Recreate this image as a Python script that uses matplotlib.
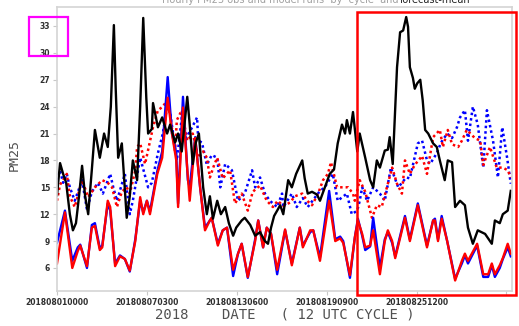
import matplotlib.pyplot as plt
import matplotlib.patches as mpatches

# hours since 2018-08-01 00 UTC, PM25 values
black_obs = [(0, 14.1), (5, 17.7), (10, 16.5), (15, 15.5), (21, 12), (26, 10.2), (31, 11), (36, 14), (41, 17.4),
             (46, 14), (51, 12), (57, 17), (62, 21.4), (70, 18.3), (77, 21), (83, 19.5), (88, 24), (93, 33.1),
             (96, 26), (100, 18.3), (106, 19.9), (114, 11.6), (119, 14), (124, 18), (131, 15.8), (136, 24),
             (141, 33.9), (146, 25), (149, 21), (155, 21.5), (157, 24.4), (165, 21.7), (172, 22.8), (180, 21),
             (185, 22), (193, 20), (198, 21), (204, 19), (213, 25.1), (217, 22), (222, 17.6), (227, 20), (232, 21),
             (239, 15), (245, 12), (250, 14), (255, 11.5), (262, 13.5), (268, 12), (275, 12.8), (281, 11),
             (288, 9.6), (293, 10.5), (302, 11.3), (307, 11.6), (316, 10.8), (324, 9.6), (332, 10), (340, 9),
             (345, 8.7), (350, 10.5), (355, 11.8), (365, 13), (370, 12), (378, 15.8), (384, 15), (391, 16.5),
             (401, 18), (405, 16), (410, 14.3), (417, 14.5), (425, 14.2), (430, 13.5), (438, 15), (446, 16.5),
             (453, 17), (459, 19.9), (466, 22), (471, 21), (474, 22.5), (479, 21), (484, 23.4), (491, 19),
             (495, 21), (504, 18.3), (512, 15.8), (517, 15), (523, 18), (528, 17.2), (536, 19.1), (541, 19.2),
             (544, 20.6), (549, 17.6), (556, 28.4), (561, 32.3), (566, 32.5), (571, 34), (574, 32.9), (577, 28.4),
             (582, 27.2), (585, 26), (589, 26.6), (594, 27), (598, 24.7), (602, 21.4), (607, 21), (615, 19.9),
             (621, 19.5), (626, 18), (634, 15.8), (639, 18), (646, 17.8), (651, 12.8), (659, 13.5), (667, 13),
             (672, 10.5), (680, 8.7), (688, 10.2), (700, 9.8), (711, 8.7), (716, 11.3), (724, 11), (729, 12),
             (737, 12.4), (742, 14.6)]

blue_solid = [(0, 8.8), (13, 12.4), (25, 6.8), (34, 8.3), (38, 8.6), (49, 6.0), (57, 10.8), (62, 11), (70, 8.2),
              (74, 8.5), (83, 13.2), (87, 12.4), (95, 6.5), (103, 7.4), (111, 7), (119, 5.6), (128, 9.2),
              (136, 13.5), (141, 12.2), (147, 13.5), (152, 12.3), (164, 16.8), (172, 19), (181, 27.3), (188, 21),
              (195, 18.8), (198, 13.2), (206, 25.1), (214, 15.8), (217, 15), (226, 20.6), (234, 15), (242, 10.5),
              (250, 11.3), (253, 11.6), (263, 8.7), (271, 10.2), (278, 10.5), (288, 5.1), (296, 7.6), (302, 8.7),
              (312, 4.9), (324, 9.2), (329, 11.3), (337, 8.3), (343, 10.5), (350, 9.8), (360, 5.3), (373, 10.2),
              (384, 6.5), (397, 10.5), (402, 8.5), (414, 10), (419, 10.2), (430, 7.2), (445, 14.6), (455, 9.2),
              (463, 9.5), (468, 9), (479, 4.9), (487, 9.4), (492, 11.5), (499, 9.6), (504, 8), (512, 8.4),
              (517, 11.6), (528, 6), (536, 9.2), (541, 10), (548, 8.8), (553, 7.3), (569, 11.8), (577, 9.2),
              (590, 13.2), (605, 8.5), (615, 11.3), (618, 11.5), (623, 9.2), (629, 11.8), (638, 9), (651, 4.8),
              (662, 6.5), (667, 7.4), (672, 6.5), (687, 8.5), (697, 5), (705, 5), (711, 6.3), (716, 5), (724, 6),
              (729, 7), (737, 8.3), (742, 7.3)]

red_solid = [(0, 6.5), (13, 12.2), (25, 6), (34, 7.9), (38, 8.5), (49, 6.2), (57, 10.5), (62, 10.7), (70, 8),
             (74, 8.3), (83, 13.5), (87, 12.8), (95, 6.2), (103, 7.3), (111, 7), (119, 5.7), (128, 9), (136, 13.9),
             (141, 12), (147, 13.5), (152, 12), (164, 16.5), (172, 18.3), (181, 25), (188, 21), (195, 18),
             (198, 12.8), (206, 23.9), (213, 17), (217, 13.5), (226, 20.5), (234, 15), (242, 10.2), (250, 11.3),
             (253, 11.6), (263, 8.5), (271, 10.2), (278, 10.5), (288, 5.8), (296, 7.6), (302, 8.7), (312, 5),
             (324, 9), (329, 11.3), (337, 8.3), (343, 10.5), (350, 9.8), (360, 5.8), (373, 10.3), (384, 6.3),
             (397, 10.5), (402, 8.3), (414, 10.2), (419, 10.2), (430, 6.8), (445, 13.5), (455, 9), (463, 9.3),
             (468, 8.8), (479, 5.2), (487, 9.4), (492, 11.3), (499, 9.8), (504, 8.3), (512, 8.5), (517, 10.2),
             (528, 5.3), (536, 9), (541, 10.2), (548, 9), (553, 7.1), (569, 11.6), (577, 9), (590, 13),
             (605, 8.3), (615, 11.3), (618, 11.3), (623, 9), (629, 11.5), (638, 9), (651, 4.6), (662, 6.8),
             (667, 7.6), (672, 6.8), (687, 8.7), (697, 5.3), (705, 5.3), (711, 6.5), (716, 5.3), (724, 6.3),
             (729, 7.1), (737, 8.7), (742, 7.6)]

blue_dot = [(0, 15.8), (5, 16.9), (10, 15.5), (16, 16.5), (21, 15), (29, 13.5), (41, 15.8), (49, 12.5), (57, 14.5),
            (67, 15.5), (75, 14.3), (87, 16.5), (92, 15), (98, 13.5), (111, 16.5), (119, 12), (124, 13.5),
            (136, 18.3), (149, 15), (155, 15.5), (165, 18.8), (173, 21), (180, 24), (185, 23.3), (196, 18),
            (204, 22.8), (211, 20.5), (221, 21.7), (229, 22.8), (231, 20.2), (237, 20), (245, 17.5), (253, 18.6),
            (262, 18.3), (267, 15), (275, 17.6), (286, 16.9), (296, 13.5), (307, 14.3), (319, 16.9), (324, 15),
            (332, 16.1), (340, 14.3), (348, 13.5), (360, 12.8), (368, 14.3), (370, 12.8), (384, 14.3),
            (392, 12.8), (402, 13.8), (410, 12.8), (430, 14.6), (438, 15), (451, 16.5), (459, 13.5), (474, 14.3),
            (482, 12), (491, 12.4), (495, 13.5), (499, 15), (507, 13.5), (517, 15), (528, 14.3), (536, 13.5),
            (546, 17.2), (558, 15), (571, 16.1), (577, 16), (590, 19.9), (597, 20.2), (605, 18), (610, 17.6),
            (621, 18.8), (628, 20), (638, 21), (646, 20.5), (654, 21.7), (659, 22.8), (667, 23.6), (672, 20.2),
            (680, 24), (688, 22), (697, 17.2), (703, 23.6), (713, 20.2), (721, 16.1), (728, 21.7), (736, 18.3),
            (742, 15.4)]

red_dot = [(0, 13.5), (5, 15.3), (10, 15.8), (16, 16.5), (21, 14), (29, 12.8), (41, 15.8), (51, 13.9), (62, 15),
           (74, 15.8), (83, 15.5), (90, 15), (98, 12.8), (106, 14.5), (114, 15), (119, 14.3), (128, 16.9),
           (131, 19.5), (136, 19.9), (144, 17.6), (157, 21.7), (165, 23.6), (173, 24), (180, 24.7), (185, 23),
           (193, 19.1), (196, 22.5), (204, 23.6), (213, 20.2), (222, 21), (231, 18.3), (239, 19), (245, 18.3),
           (250, 16.1), (257, 17.5), (262, 18.3), (271, 16), (283, 16.9), (291, 13.2), (302, 14.3), (312, 12.4),
           (320, 14.5), (332, 15.2), (343, 13.5), (353, 12.8), (361, 13.5), (370, 12.9), (381, 13.3), (389, 14),
           (401, 14.3), (409, 13.5), (417, 13), (427, 14.3), (435, 15.8), (443, 16.5), (448, 17.8), (458, 15),
           (468, 15), (476, 15), (484, 14.3), (487, 13.5), (495, 15.8), (504, 14.5), (515, 11.6), (523, 13),
           (531, 12.8), (541, 15.4), (548, 17.2), (556, 15.4), (564, 14.3), (569, 18), (577, 16.5), (585, 17.5),
           (597, 18.5), (605, 16.5), (615, 20.6), (626, 21.4), (631, 19.5), (639, 21.4), (646, 19.8), (656, 19.5),
           (662, 20.2), (670, 21.4), (679, 20.8), (683, 20.5), (692, 20.2), (697, 17.5), (708, 19.5), (719, 17.2),
           (729, 17.2), (737, 16.9), (742, 16.1)]

x_ticks = [0, 147, 294, 441, 588, 735]
x_labels = ['201808010000', '201808070300', '201808130600', '201808190900', '201808251200', '']
y_ticks = [6, 9, 12, 15, 18, 21, 24, 27, 30, 33]

fig = plt.figure(figsize=(5.19, 3.26), dpi=100)
ax = fig.add_axes([57 / 519, 1 - 291 / 326, 455 / 519, 284 / 326])


def xy(pts):
    return [p[0] for p in pts], [p[1] for p in pts]


ax.plot(*xy(blue_dot), color='#0000ff', lw=1.8, ls=(0, (1, 1.2)))
ax.plot(*xy(red_dot), color='#ff0000', lw=1.8, ls=(0, (1, 1.2)))
ax.plot(*xy(blue_solid), color='#0000ff', lw=1.7)
ax.plot(*xy(red_solid), color='#ff0000', lw=1.7)
ax.plot(*xy(black_obs), color='black', lw=1.7)

ax.set_xlim(0, 744)
ax.set_ylim(3.43, 35.12)
ax.set_xticks(x_ticks)
ax.set_xticklabels(x_labels)
ax.set_yticks(y_ticks)
ax.tick_params(axis='both', direction='out', length=3, width=0.8, color='#c8c8c8',
               labelsize=5.5, labelcolor='#303030', pad=2)
for lab in ax.get_xticklabels() + ax.get_yticklabels():
    lab.set_fontweight('bold')
for sp in ax.spines.values():
    sp.set_color('#d4d4d4')
    sp.set_linewidth(1.2)

# GrADS-style axis titles
fig.text(14 / 519, 1 - 155 / 326, 'PM25', rotation=90, ha='center', va='center',
         family='DejaVu Sans Mono', fontsize=9.5, color='#505050')
fig.text(285 / 519, 1 - 315 / 326, '2018    DATE   ( 12 UTC CYCLE )', ha='center', va='center',
         family='DejaVu Sans Mono', fontsize=10, color='#505050')

# title, mostly cut off at the top
fig.text(280 / 519, 1 - 3 / 326, 'Hourly PM25 obs and model runs  by  cycle  and', ha='center',
         va='baseline', fontsize=7, color='#a0a0a0')
fig.text(400 / 519, 1 - 3 / 326, 'forecast-mean', ha='left', va='baseline', fontsize=7, color='#202020')

# highlight boxes
fig.patches.append(mpatches.Rectangle((29 / 519, 1 - 56 / 326), 39 / 519, 39 / 326, fill=False,
                                      ec='#ff00ff', lw=1.6, transform=fig.transFigure, figure=fig))
fig.patches.append(mpatches.Rectangle((357 / 519, 1 - 295 / 326), 159 / 519, 283 / 326, fill=False,
                                      ec='#ff0000', lw=1.8, transform=fig.transFigure, figure=fig))

plt.savefig('out.png', dpi=100)
